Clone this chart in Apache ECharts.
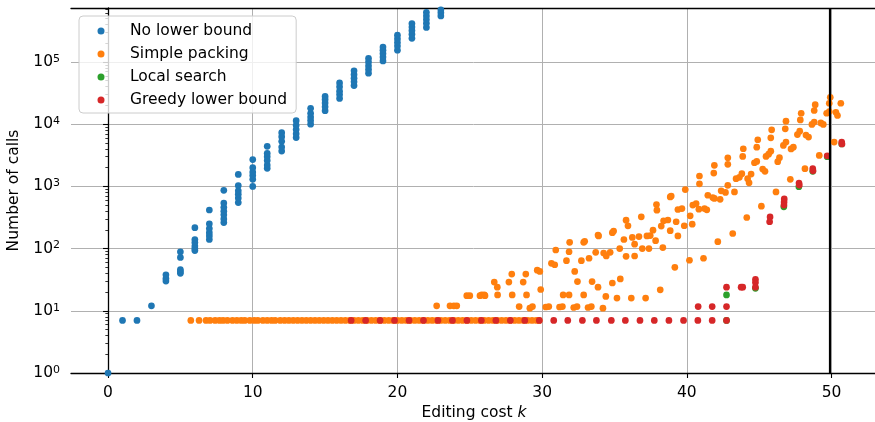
<!DOCTYPE html>
<html>
<head>
<meta charset="utf-8">
<script src="https://cdn.jsdelivr.net/npm/echarts@6/dist/echarts.min.js"></script>
<style>
  html, body { margin: 0; padding: 0; background: #fff; }
  #chart { width: 875px; height: 422px; }
</style>
</head>
<body>
<div id="chart"></div>
<script>
// --- data ---
var xTicks = [0, 10, 20, 30, 40, 50];
var yTicks = [1, 10, 100, 1000, 10000, 100000];

// No lower bound: calls per integer k
var noLbK = [0, 1, 2, 3, 4, 5, 6, 7, 8, 9, 10, 11, 12, 13, 14, 15, 16, 17, 18, 19, 20, 21, 22, 23];
var noLbCalls = [
  [1], [7], [7], [12],
  [30, 33, 38],
  [40, 43, 46, 72, 89],
  [93, 100, 110, 125, 140, 217],
  [140, 160, 180, 210, 250, 417],
  [262, 300, 350, 400, 460, 540, 865],
  [550, 650, 750, 850, 1030, 1560],
  [1000, 1300, 1500, 1700, 2000, 2700],
  [1950, 2200, 2600, 3000, 3400, 4400],
  [3700, 4300, 5300, 6300, 7300],
  [6100, 7000, 8200, 9600, 11400],
  [10000, 11500, 13000, 15000, 18000],
  [16500, 19000, 22000, 25000, 28000],
  [26000, 30000, 34000, 40000, 46000],
  [41700, 48000, 55000, 63000, 72000],
  [66000, 76000, 87000, 100000, 114000],
  [104000, 120000, 137000, 155000, 174000],
  [155000, 180000, 205000, 235000, 270000],
  [240000, 280000, 320000, 365000, 415000],
  [360000, 420000, 480000, 550000, 630000],
  [550000, 620000, 690000]
];

// Simple packing: the flat row at 7 calls, then the cloud
var packRowK = [5.72, 6.29, 6.77, 7.05, 7.4, 7.7, 7.95, 8.25, 8.6, 8.9, 9.2, 9.45, 9.8, 10.1, 10.35,
  10.7, 11.0, 11.3, 11.55, 11.9, 12.2, 12.5, 12.8, 13.1, 13.4, 13.7, 14.0, 14.3, 14.6, 14.9, 15.2,
  15.5, 15.8, 16.1, 16.4, 16.7, 17.0, 17.3, 17.6, 17.9, 18.2, 18.5, 18.8, 19.1, 19.4, 19.7, 20.0,
  20.3, 20.6, 20.9, 21.2, 21.5, 21.8, 22.1, 22.4, 22.7, 23.0, 23.3, 23.6, 23.9, 24.2, 24.5, 24.8,
  25.1, 25.4, 25.7, 26.0, 26.3, 26.6, 26.9, 27.2, 27.5, 27.8, 28.1, 28.4, 28.7, 29.0, 29.3, 29.6, 29.8];
var packRowCalls = 7;
var packCloud = [
  [22.71, 12], [23.63, 12], [23.9, 12], [24.1, 12], [24.79, 17.5], [25.0, 17.5], [25.7, 17.5], [26.05, 17.5],
  [25.82, 18], [26.0, 18], [26.69, 29], [26.9, 24], [26.92, 18], [27.7, 29], [27.9, 39], [27.93, 18],
  [28.41, 11.7], [28.69, 29], [28.87, 39], [28.92, 18], [29.15, 11], [29.33, 11.7], [29.66, 45], [29.84, 43],
  [29.9, 22], [30.25, 11.5], [30.46, 11.7], [30.64, 58], [30.87, 55], [30.94, 95], [31.2, 11.5], [31.4, 11.7],
  [31.45, 18], [31.68, 64], [31.86, 89], [31.9, 126], [31.86, 18], [32.25, 43], [32.18, 11.3], [32.41, 11.7],
  [32.44, 29.5], [32.71, 64], [32.87, 126], [32.94, 131], [32.87, 18], [33.24, 70], [33.17, 11.3], [33.4, 11.7],
  [33.45, 29.5], [33.7, 87], [33.86, 165], [33.9, 160], [33.86, 24], [34.2, 11], [34.25, 85], [34.43, 76],
  [34.4, 17], [34.7, 87], [34.85, 28], [34.85, 180], [34.94, 192], [35.17, 16], [35.36, 100], [35.4, 32.5],
  [35.65, 140], [35.8, 286], [35.93, 232], [35.8, 75], [36.16, 16], [36.23, 151], [36.39, 118], [36.39, 76],
  [36.69, 156], [36.85, 324], [36.92, 100], [37.15, 16], [37.24, 160], [37.47, 162], [37.38, 100], [37.66, 198],
  [37.84, 134], [37.9, 510], [37.93, 414], [38.16, 21.7], [38.23, 230], [38.34, 104], [38.39, 280], [38.69, 288],
  [38.85, 194], [38.85, 676], [38.92, 700], [39.17, 50], [39.26, 270], [39.38, 160], [39.38, 425], [39.66, 440],
  [39.82, 233], [39.89, 888], [40.18, 65], [40.23, 336], [40.37, 247], [40.41, 500], [40.64, 530], [40.83, 430],
  [40.87, 1100], [40.87, 1470], [41.15, 70], [41.22, 440], [41.38, 420], [41.45, 720], [41.79, 660], [41.9, 640],
  [42.3, 620], [41.86, 1640], [41.9, 2180], [42.14, 129], [42.37, 850], [42.67, 800], [42.83, 2890], [42.83, 2260],
  [42.83, 1040], [43.17, 175], [43.29, 815], [43.4, 1330], [43.63, 1400], [43.8, 1600], [43.86, 3030], [43.9, 4030],
  [44.14, 316], [44.2, 1330], [44.3, 1140], [44.44, 1580], [44.67, 2400], [44.83, 2520], [44.83, 4270], [44.9, 5620],
  [45.15, 480], [45.24, 1900], [45.4, 1750], [45.47, 3030], [45.65, 3300], [45.8, 3690], [45.8, 6030], [45.86, 8110],
  [46.16, 815], [46.28, 2500], [46.4, 2900], [46.67, 4560], [46.85, 5150], [46.8, 8410], [46.85, 11170], [47.15, 1300],
  [47.2, 4000], [47.36, 4270], [47.64, 6820], [47.8, 7710], [47.84, 11730], [47.9, 15000], [48.16, 1930], [48.23, 6700],
  [48.41, 6200], [48.64, 9900], [48.8, 10800], [48.8, 16600], [48.87, 20600], [49.15, 3150], [49.26, 10500], [49.43, 9900],
  [49.66, 15000], [49.84, 16000], [49.84, 21700], [49.91, 27000], [50.18, 5150], [50.3, 15500], [50.41, 13800], [50.64, 21700]
];

// Local search (mostly hidden under the red marks)
var localSearch = [[42.74, 7], [42.74, 18], [44.74, 23], [46.7, 470], [47.74, 990], [48.7, 1750], [49.7, 3000], [50.7, 4800]];

// Greedy lower bound
var greedyRowK = [16.8, 17.8, 18.8, 19.8, 20.8, 21.8, 22.8, 23.8, 24.8, 25.8, 26.8, 27.8, 28.8, 29.8,
  30.8, 31.77, 32.78, 33.75, 34.78, 35.75, 36.76, 37.75, 38.76, 39.77, 40.76, 41.75, 42.74];
var greedyRowCalls = 7;
var greedyUpper = [
  [40.78, 11.7], [41.75, 11.7], [42.74, 11.7], [42.74, 24], [43.75, 24], [43.86, 24],
  [44.74, 32], [44.74, 28.4], [44.74, 24], [45.75, 323], [45.72, 270],
  [46.73, 630], [46.72, 560], [46.71, 500], [47.75, 1135], [47.77, 1050],
  [48.7, 1930], [48.72, 1780], [49.7, 3100], [50.7, 5150], [50.72, 4800]
];

var cutoffK = 49.85;

// --- build point lists ---
var noLbPts = [];
noLbK.forEach(function (k, i) {
  noLbCalls[i].forEach(function (v) { noLbPts.push([k, v]); });
});
var packPts = packRowK.map(function (k) { return [k, packRowCalls]; }).concat(packCloud);
var greedyPts = greedyRowK.map(function (k) { return [k, greedyRowCalls]; }).concat(greedyUpper);

var minorTicks = [];
for (var d = 0; d <= 5; d++) {
  for (var m = 2; m <= 9; m++) {
    if (m * Math.pow(10, d) < 738000) minorTicks.push(m * Math.pow(10, d));
  }
}

var font = 'DejaVu Sans';
var fs = 15.5;
var xMin = -2.56, xMax = 53.14;
var yMin = 1, yMax = 738000;

var chart = echarts.init(document.getElementById('chart'));
chart.setOption({
  animation: false,
  textStyle: { fontFamily: font },
  grid: { left: 71, right: -2, top: 8, bottom: 49, outerBoundsMode: 'none', containLabel: false },
  legend: {
    orient: 'vertical',
    left: 79,
    top: 16,
    padding: [7, 9, 5, 18.5],
    itemWidth: 7,
    itemHeight: 7,
    itemGap: 7,
    icon: 'circle',
    selectedMode: false,
    backgroundColor: 'rgba(255,255,255,0.8)',
    borderColor: '#cccccc',
    borderWidth: 1,
    borderRadius: 4,
    formatter: function (name) { return '{t|' + name + '}'; },
    textStyle: {
      fontFamily: font, fontSize: fs, color: '#000', lineHeight: 16,
      rich: { t: { fontFamily: font, fontSize: fs, color: '#000', lineHeight: 16, padding: [0, 0, 0, 20.5] } }
    },
    data: ['No lower bound', 'Simple packing', 'Local search', 'Greedy lower bound']
  },
  xAxis: [{
    type: 'value',
    min: xMin,
    max: xMax,
    position: 'bottom',
    name: 'Editing cost {i|k}',
    nameLocation: 'middle',
    nameGap: 31,
    nameTextStyle: {
      fontFamily: font, fontSize: fs, color: '#000',
      rich: { i: { fontFamily: font, fontSize: fs, fontStyle: 'italic', color: '#000' } }
    },
    axisLine: { lineStyle: { color: '#000', width: 1.3 } },
    axisTick: { customValues: xTicks, length: 5, lineStyle: { color: '#000', width: 1.1 } },
    axisLabel: { customValues: xTicks, color: '#000', fontFamily: font, fontSize: fs, margin: 11.5 },
    splitLine: { lineStyle: { color: '#b0b0b0', width: 1 } }
  }, {
    type: 'value',
    min: xMin,
    max: xMax,
    position: 'top',
    axisLine: { show: true, lineStyle: { color: '#000', width: 1.3 } },
    axisTick: { show: false },
    axisLabel: { show: false },
    splitLine: { show: false }
  }],
  yAxis: [{
    type: 'log',
    logBase: 10,
    min: yMin,
    max: yMax,
    name: 'Number of calls',
    nameLocation: 'middle',
    nameGap: 45.5,
    nameTextStyle: { fontFamily: font, fontSize: fs, color: '#000' },
    axisLine: { show: true, lineStyle: { color: '#000', width: 1.3 } },
    axisTick: { show: true, customValues: yTicks, length: 5, lineStyle: { color: '#000', width: 1.1 } },
    axisLabel: {
      customValues: yTicks,
      margin: 11,
      color: '#000',
      formatter: function (v) { return '{b|10}{s|' + Math.round(Math.log10(v)) + '}'; },
      rich: {
        b: { fontFamily: font, fontSize: fs, color: '#000' },
        s: { fontFamily: font, fontSize: 11, color: '#000', verticalAlign: 'top', padding: [0, 0, 6, 0] }
      }
    },
    splitLine: { lineStyle: { color: '#b0b0b0', width: 1 } }
  }, {
    type: 'log',
    logBase: 10,
    min: yMin,
    max: yMax,
    position: 'left',
    axisLine: { show: false },
    axisTick: { show: true, customValues: minorTicks, length: 2.7, lineStyle: { color: '#000', width: 0.8 } },
    axisLabel: { show: false },
    splitLine: { show: false }
  }],
  series: [{
    name: 'No lower bound',
    type: 'scatter',
    symbolSize: 6.7,
    itemStyle: { color: '#1f77b4', opacity: 1 },
    data: noLbPts
  }, {
    name: 'Simple packing',
    type: 'scatter',
    symbolSize: 6.7,
    itemStyle: { color: '#ff7f0e', opacity: 1 },
    data: packPts
  }, {
    name: 'Local search',
    type: 'scatter',
    symbolSize: 6.7,
    itemStyle: { color: '#2ca02c', opacity: 1 },
    data: localSearch
  }, {
    name: 'Greedy lower bound',
    type: 'scatter',
    symbolSize: 6.7,
    itemStyle: { color: '#d62728', opacity: 1 },
    data: greedyPts,
    markLine: {
      silent: true,
      symbol: 'none',
      label: { show: false },
      lineStyle: { color: '#000', width: 2.2, type: 'solid' },
      data: [{ xAxis: cutoffK }]
    }
  }]
});
</script>
</body>
</html>
